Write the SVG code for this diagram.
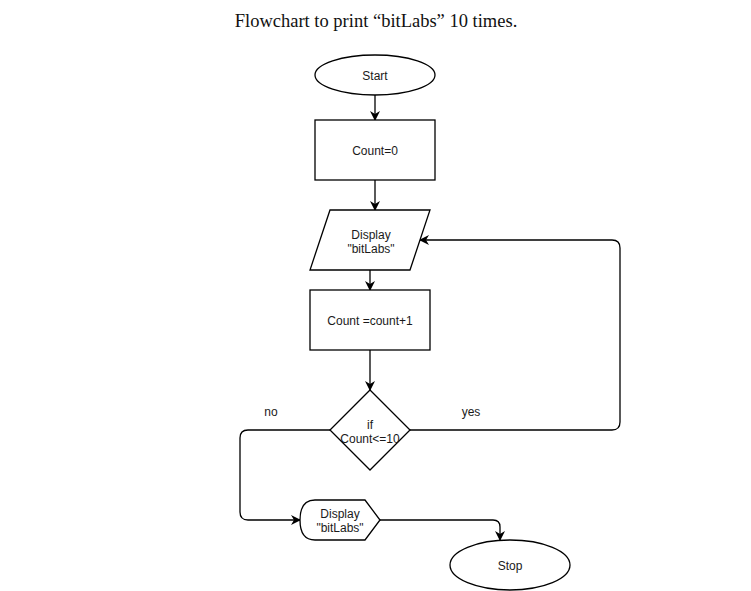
<svg xmlns="http://www.w3.org/2000/svg" width="751" height="591" viewBox="0 0 751 591">
<defs>
<style>
.shape{fill:#ffffff;stroke:#000000;stroke-width:1.3}
.edge{fill:none;stroke:#000000;stroke-width:1.3}
.lbl{font-family:"Liberation Sans",Arial,sans-serif;font-size:12px;fill:#1a1a1a;text-anchor:middle}
.title{font-family:"Liberation Serif","Times New Roman",serif;font-size:18.5px;fill:#111111;text-anchor:middle}
</style>
<marker id="arr" viewBox="0 0 10 10" refX="9" refY="5" markerWidth="10" markerHeight="10" markerUnits="userSpaceOnUse" orient="auto">
<path d="M0,0 L10,5 L0,10 L3,5 Z" fill="#000000"/>
</marker>
</defs>
<rect width="751" height="591" fill="#ffffff"/>
<text class="title" x="376" y="27">Flowchart to print “bitLabs” 10 times.</text>

<g id="connectors">
<path class="edge" d="M375,95 L375,120" marker-end="url(#arr)"/>
<path class="edge" d="M375,180 L375,210" marker-end="url(#arr)"/>
<path class="edge" d="M370,270 L370,290" marker-end="url(#arr)"/>
<path class="edge" d="M370,350 L370,390" marker-end="url(#arr)"/>
<path class="edge" d="M410,430 L612,430 Q620,430 620,422 L620,248 Q620,240 612,240 L420,240" marker-end="url(#arr)"/>
<path class="edge" d="M330,430 L248,430 Q240,430 240,438 L240,512 Q240,520 248,520 L300,520" marker-end="url(#arr)"/>
<path class="edge" d="M380,520 L493,520 Q500,520 500,527 L500,540" marker-end="url(#arr)"/>
<text class="lbl" x="271" y="416">no</text>
<text class="lbl" x="471" y="416">yes</text>
</g>

<g id="start">
<ellipse class="shape" cx="375" cy="75" rx="60" ry="20"/>
<text class="lbl" x="375" y="80">Start</text>
</g>
<g id="init">
<rect class="shape" x="315" y="120" width="120" height="60"/>
<text class="lbl" x="375" y="155">Count=0</text>
</g>
<g id="display1">
<path class="shape" d="M330,210 L430,210 L410,270 L310,270 Z"/>
<text class="lbl" x="371" y="239">Display</text>
<text class="lbl" x="371" y="253">"bitLabs"</text>
</g>
<g id="increment">
<rect class="shape" x="310" y="290" width="120" height="60"/>
<text class="lbl" x="370" y="325">Count =count+1</text>
</g>
<g id="decision">
<path class="shape" d="M370,390 L410,430 L370,470 L330,430 Z"/>
<text class="lbl" x="370" y="429">if</text>
<text class="lbl" x="370" y="443">Count&lt;=10</text>
</g>
<g id="display2">
<path class="shape" d="M315,500 L365,500 L380,520 L365,540 L315,540 Q300,540 300,520 Q300,500 315,500 Z"/>
<text class="lbl" x="340" y="518">Display</text>
<text class="lbl" x="340" y="532">"bitLabs"</text>
</g>
<g id="stop">
<ellipse class="shape" cx="510" cy="565" rx="60" ry="25"/>
<text class="lbl" x="510" y="570">Stop</text>
</g>
</svg>
